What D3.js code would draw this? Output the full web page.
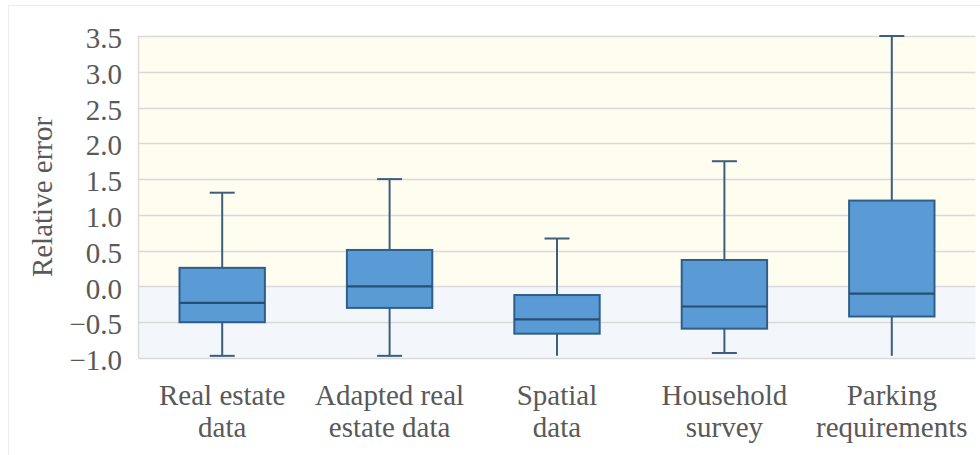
<!DOCTYPE html>
<html>
<head>
<meta charset="utf-8">
<script src="https://cdn.jsdelivr.net/npm/d3@7"></script>
<style>
  html, body { margin: 0; padding: 0; background: #fff; }
  svg { display: block; }
  svg text { font-family: "Liberation Serif", "Times New Roman", serif; fill: #595959; }
</style>
</head>
<body>
<svg id="chart" width="980" height="455"></svg>
<script>
// Source categories (two-line labels)
const categories = [
  ["Real estate", "data"],
  ["Adapted real", "estate data"],
  ["Spatial", "data"],
  ["Household", "survey"],
  ["Parking", "requirements"]
];
// Box statistics per category
const whiskerMin = [-0.97, -0.97, -1.0, -0.93, -1.0];
const quartile1  = [-0.50, -0.30, -0.66, -0.59, -0.42];
const medians    = [-0.23,  0.00, -0.46, -0.28, -0.10];
const quartile3  = [ 0.26,  0.51, -0.12,  0.37,  1.20];
const whiskerMax = [ 1.31,  1.50,  0.67,  1.75,  3.50];
// Y axis ticks
const yTicks = [-1.0, -0.5, 0.0, 0.5, 1.0, 1.5, 2.0, 2.5, 3.0, 3.5];

const FONT = "'Liberation Serif', 'Times New Roman', serif";
const svg = d3.select("#chart");
const plot = { left: 138.5, right: 975.5, top: 36, bottom: 358 };

const x = d3.scaleBand()
  .domain(d3.range(categories.length))
  .range([plot.left, plot.right])
  .paddingInner(0).paddingOuter(0);
const y = d3.scaleLinear().domain([-1, 3.5]).range([plot.bottom, plot.top]);

// faint outer frame
svg.append("path")
  .attr("d", `M8.5,455 V5.5 H980`)
  .attr("fill", "none").attr("stroke", "#ececec").attr("stroke-width", 1);

// shaded backgrounds: positive (warm) and negative (cool) error regions
svg.append("rect")
  .attr("x", plot.left).attr("y", y(3.5))
  .attr("width", plot.right - plot.left).attr("height", y(0) - y(3.5))
  .attr("fill", "#fffcf0");
svg.append("rect")
  .attr("x", plot.left).attr("y", y(0))
  .attr("width", plot.right - plot.left).attr("height", y(-1) - y(0))
  .attr("fill", "#f3f6fb");

// left border of plot area
svg.append("line")
  .attr("x1", plot.left).attr("x2", plot.left)
  .attr("y1", y(3.5)).attr("y2", y(-1))
  .attr("stroke", "#dcdcdc").attr("stroke-width", 1.5);

// gridlines
svg.append("g").selectAll("line").data(yTicks).join("line")
  .attr("x1", plot.left).attr("x2", plot.right)
  .attr("y1", d => Math.round(y(d)) + 0.5).attr("y2", d => Math.round(y(d)) + 0.5)
  .attr("stroke", "#d9d9d9").attr("stroke-width", 1.5);

// y axis labels
const yAxis = d3.axisLeft(y).tickValues(yTicks).tickFormat(d3.format(".1f")).tickSize(0).tickPadding(0);
const gy = svg.append("g").attr("transform", `translate(122,0)`).call(yAxis);
gy.select(".domain").remove();
gy.attr("font-family", null).attr("font-size", null);
gy.selectAll("text")
  .style("font-family", FONT)
  .style("font-size", "29px")
  .style("fill", "#595959")
  .attr("dy", "0.4em");

// y axis title
svg.append("text")
  .attr("transform", `translate(52,${(y(3.5) + y(-1)) / 2}) rotate(-90)`)
  .attr("text-anchor", "middle")
  .style("font-family", FONT)
  .style("font-size", "29px")
  .text("Relative error");

// category labels
const xl = svg.append("g");
categories.forEach((lines, i) => {
  const cx = x(i) + x.bandwidth() / 2;
  const t = xl.append("text")
    .attr("text-anchor", "middle")
    .style("font-family", FONT)
    .style("font-size", "29px")
    .attr("x", cx).attr("y", 405);
  lines.forEach((ln, j) => {
    t.append("tspan").attr("x", cx).attr("dy", j === 0 ? 0 : 32).text(ln);
  });
});

// boxes
const boxW = x.bandwidth() * 0.51;
const capW = 25;
const stroke = "#2e5f8a";
const whiskerColor = "#3d5f7e";
const boxes = svg.append("g");
categories.forEach((_, i) => {
  const cx = x(i) + x.bandwidth() / 2;
  const g = boxes.append("g");
  // whiskers
  g.append("line").attr("x1", cx).attr("x2", cx)
    .attr("y1", y(whiskerMax[i])).attr("y2", y(quartile3[i]))
    .attr("stroke", whiskerColor).attr("stroke-width", 2);
  g.append("line").attr("x1", cx).attr("x2", cx)
    .attr("y1", y(quartile1[i])).attr("y2", y(Math.max(whiskerMin[i], -0.97)))
    .attr("stroke", whiskerColor).attr("stroke-width", 2);
  // caps (the lower cap disappears when it sits on the axis floor)
  g.append("line").attr("x1", cx - capW / 2).attr("x2", cx + capW / 2)
    .attr("y1", y(whiskerMax[i])).attr("y2", y(whiskerMax[i]))
    .attr("stroke", whiskerColor).attr("stroke-width", 2);
  if (whiskerMin[i] > y.domain()[0]) {
    g.append("line").attr("x1", cx - capW / 2).attr("x2", cx + capW / 2)
      .attr("y1", y(whiskerMin[i])).attr("y2", y(whiskerMin[i]))
      .attr("stroke", whiskerColor).attr("stroke-width", 2);
  }
  // box
  g.append("rect")
    .attr("x", cx - boxW / 2).attr("y", y(quartile3[i]))
    .attr("width", boxW).attr("height", y(quartile1[i]) - y(quartile3[i]))
    .attr("fill", "#5b9bd5").attr("stroke", stroke).attr("stroke-width", 2);
  // median
  g.append("line").attr("x1", cx - boxW / 2).attr("x2", cx + boxW / 2)
    .attr("y1", y(medians[i])).attr("y2", y(medians[i]))
    .attr("stroke", "#264f75").attr("stroke-width", 2.2);
});
</script>
</body>
</html>
